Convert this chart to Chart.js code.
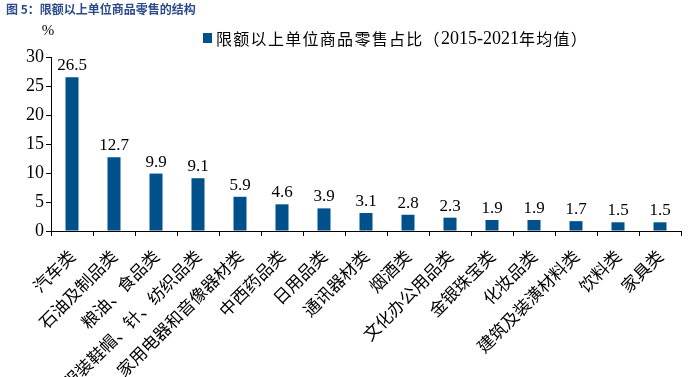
<!DOCTYPE html>
<html>
<head>
<meta charset="utf-8">
<script src="https://cdn.jsdelivr.net/npm/chart.js@4"></script>
<style>
  html, body { margin: 0; padding: 0; background: #fff; }
  #wrap { position: relative; width: 690px; height: 377px; }
</style>
</head>
<body>
<div id="wrap"><canvas id="chart"></canvas></div>
<script>
const categories = ["汽车类", "石油及制品类", "粮油、食品类", "服装鞋帽、针、纺织品类", "家用电器和音像器材类",
  "中西药品类", "日用品类", "通讯器材类", "烟酒类", "文化办公用品类", "金银珠宝类", "化妆品类",
  "建筑及装潢材料类", "饮料类", "家具类"];
const shareValues = [26.5, 12.7, 9.9, 9.1, 5.9, 4.6, 3.9, 3.1, 2.8, 2.3, 1.9, 1.9, 1.7, 1.5, 1.5];
const seriesName = "限额以上单位商品零售占比（2015-2021年均值）";
const chartTitle = "图 5：限额以上单位商品零售的结构";
const yTicks = [0, 5, 10, 15, 20, 25, 30];

const barColor = "#00508C";
const cjk = "'Noto Sans CJK SC', sans-serif";
const serif = "'Liberation Serif', 'DejaVu Serif', serif";

// title, unit, legend and value labels
const extras = {
  id: "extras",
  afterDatasetsDraw(chart) {
    const ctx = chart.ctx;
    ctx.save();
    ctx.fillStyle = "#000";
    ctx.font = "17px " + serif;
    ctx.textAlign = "center";
    ctx.textBaseline = "bottom";
    chart.getDatasetMeta(0).data.forEach((bar, i) => {
      ctx.fillText(shareValues[i].toFixed(1), bar.x, bar.y - 3);
    });
    ctx.restore();
  },
  afterDraw(chart) {
    const ctx = chart.ctx;
    ctx.save();
    ctx.fillStyle = "#2B4A8B";
    ctx.font = "bold 12px " + cjk;
    ctx.textAlign = "left";
    ctx.textBaseline = "middle";
    ctx.fillText(chartTitle, 6, 9);

    ctx.fillStyle = "#000";
    ctx.font = "15px " + serif;
    ctx.textAlign = "center";
    ctx.fillText("%", 48, 31);

    // legend: square + name, digits in serif like the original
    ctx.fillStyle = barColor;
    ctx.fillRect(203, 33, 9, 10);
    ctx.fillStyle = "#000";
    ctx.textAlign = "left";
    ctx.letterSpacing = "1.3px";
    const m = seriesName.match(/^(.*?)([\d-]+)(.*)$/);
    const parts = [[m[1], "16px " + cjk], [m[2], "18px " + serif], [m[3], "16px " + cjk]];
    let x = 216;
    parts.forEach(([t, f]) => {
      ctx.font = f;
      ctx.letterSpacing = f.includes("serif") && !f.includes("Sans") ? "0px" : "1.3px";
      ctx.fillText(t, x, 39);
      x += ctx.measureText(t).width;
    });
    ctx.restore();
  }
};

new Chart(document.getElementById("chart"), {
  type: "bar",
  data: {
    labels: categories,
    datasets: [{
      label: seriesName,
      data: shareValues,
      backgroundColor: barColor,
      barPercentage: 0.31,
      categoryPercentage: 1
    }]
  },
  options: {
    responsive: true,
    maintainAspectRatio: false,
    animation: false,
    layout: { padding: { top: 57, right: 9, left: 0, bottom: 0 } },
    plugins: {
      legend: { display: false },
      tooltip: { enabled: false }
    },
    scales: {
      x: {
        grid: { drawOnChartArea: false, color: "#000", tickLength: 5, offset: true },
        border: { color: "#000", width: 1 },
        ticks: {
          color: "#000",
          font: { family: cjk, size: 17 },
          minRotation: 45,
          maxRotation: 45,
          autoSkip: false,
          padding: 10
        },
        afterFit(s) { s.height = 146; s.paddingLeft = 0; s.paddingRight = 0; }
      },
      y: {
        min: 0,
        max: 30,
        grid: { drawOnChartArea: false, color: "#000", tickLength: 5 },
        border: { color: "#000", width: 1 },
        ticks: {
          stepSize: 5,
          color: "#000",
          font: { family: serif, size: 18 },
          padding: 2,
          callback: v => yTicks.includes(v) ? v : ""
        },
        afterFit(s) { s.width = 51; s.paddingTop = 0; s.paddingBottom = 0; }
      }
    }
  },
  plugins: [extras]
});
</script>
</body>
</html>
